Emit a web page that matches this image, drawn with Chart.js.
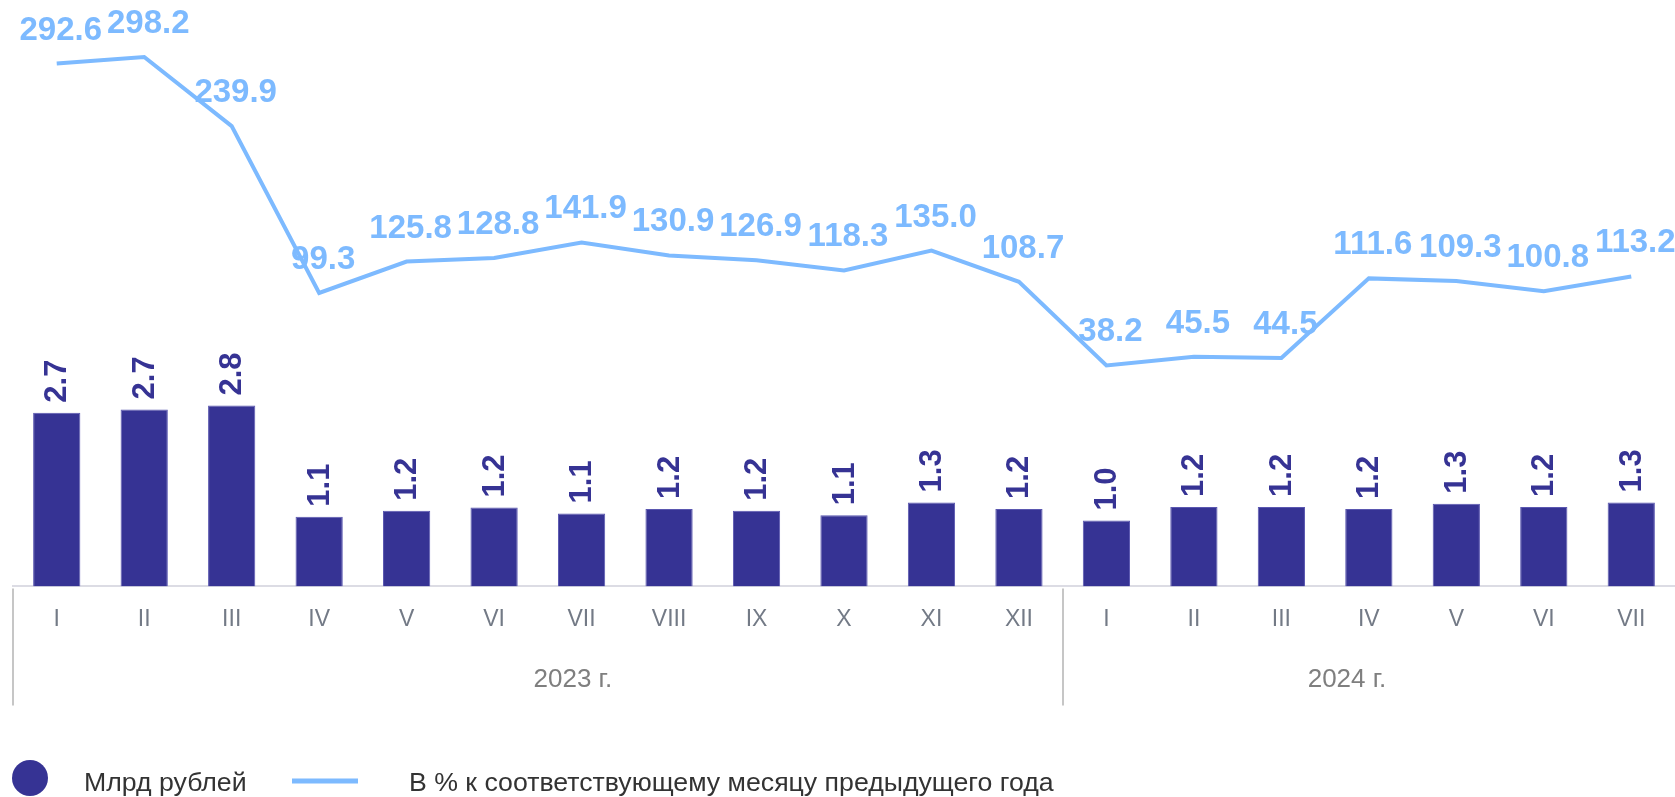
<!DOCTYPE html>
<html>
<head>
<meta charset="utf-8">
<script src="https://cdn.jsdelivr.net/npm/chart.js@4.4.1/dist/chart.umd.min.js"></script>
<style>
	html, body { margin: 0; padding: 0; background: #ffffff; }
	#wrap { width: 1675px; height: 797px; position: relative; }
</style>
</head>
<body>
<div id="wrap"><canvas id="chart"></canvas></div>
<script>
const months = ["I", "II", "III", "IV", "V", "VI", "VII", "VIII", "IX", "X", "XI", "XII",
	"I", "II", "III", "IV", "V", "VI", "VII"];
const years = ["2023 г.", "2024 г."];
const yearSizes = [12, 7];
const rubles = [2.69, 2.74, 2.80, 1.08, 1.17, 1.22, 1.13, 1.20, 1.17, 1.10, 1.30, 1.20,
	1.02, 1.23, 1.23, 1.20, 1.28, 1.23, 1.30];
const percent = [292.6, 298.2, 239.9, 99.3, 125.8, 128.8, 141.9, 130.9, 126.9, 118.3, 135.0, 108.7,
	38.2, 45.5, 44.5, 111.6, 109.3, 100.8, 113.2];
const legendLabels = ["Млрд рублей", "В % к соответствующему месяцу предыдущего года"];

const barColor = "#363394";
const lineColor = "#7dbaff";
const font = "'Liberation Sans', Arial, sans-serif";

const valueLabels = {
	id: 'valueLabels',
	afterDatasetsDraw(chart) {
		const ctx = chart.ctx;
		ctx.save();
		// bar values, rotated
		chart.getDatasetMeta(0).data.forEach((bar, i) => {
			ctx.save();
			ctx.translate(bar.x, bar.y - 10);
			ctx.rotate(-Math.PI / 2);
			ctx.font = "bold 31px " + font;
			ctx.fillStyle = barColor;
			ctx.textAlign = 'left';
			ctx.textBaseline = 'middle';
			ctx.fillText(rubles[i].toFixed(1), 0, 1);
			ctx.restore();
		});
		// line values
		ctx.font = "bold 33px " + font;
		ctx.fillStyle = lineColor;
		ctx.textAlign = 'center';
		ctx.textBaseline = 'alphabetic';
		chart.getDatasetMeta(1).data.forEach((pt, i) => {
			ctx.fillText(percent[i].toFixed(1), pt.x + 4, pt.y - 24);
		});
		ctx.restore();
	}
};

const groupAxis = {
	id: 'groupAxis',
	afterDraw(chart) {
		const ctx = chart.ctx;
		const x = chart.scales.x;
		const bottom = chart.chartArea.bottom;
		const step = x.getPixelForValue(1) - x.getPixelForValue(0);
		ctx.save();
		ctx.strokeStyle = "#c6c6c6";
		ctx.lineWidth = 2;
		// separators at the start of each year group
		let start = 0;
		yearSizes.forEach(n => {
			const px = Math.round(x.getPixelForValue(0) - step / 2 + start * step);
			ctx.beginPath();
			ctx.moveTo(px, bottom + 2);
			ctx.lineTo(px, bottom + 119);
			ctx.stroke();
			start += n;
		});
		// year captions sit a little off the group centre, as in the source
		const nudge = [0.4, -0.25];
		ctx.font = "26px " + font;
		ctx.fillStyle = "#7f7f7f";
		ctx.textAlign = 'center';
		ctx.textBaseline = 'middle';
		start = 0;
		years.forEach((label, k) => {
			const mid = start + (yearSizes[k] - 1) / 2 + nudge[k];
			ctx.fillText(label, x.getPixelForValue(mid), bottom + 93);
			start += yearSizes[k];
		});

		// legend
		const ly = 778;
		ctx.fillStyle = barColor;
		ctx.beginPath();
		ctx.arc(30, ly, 18, 0, Math.PI * 2);
		ctx.fill();
		ctx.strokeStyle = lineColor;
		ctx.lineWidth = 5;
		ctx.beginPath();
		ctx.moveTo(292, ly + 3);
		ctx.lineTo(358, ly + 3);
		ctx.stroke();
		ctx.font = "26.7px " + font;
		ctx.fillStyle = "#333333";
		ctx.textAlign = 'left';
		ctx.textBaseline = 'middle';
		ctx.fillText(legendLabels[0], 84, ly + 6);
		ctx.fillText(legendLabels[1], 409, ly + 6);
		ctx.restore();
	}
};

const config = {
	type: 'bar',
	data: {
		labels: months,
		datasets: [
			{
				type: 'bar',
				label: legendLabels[0],
				data: rubles,
				backgroundColor: barColor,
				borderColor: "#5a57b0",
				borderWidth: 1,
				yAxisID: 'yBar',
				categoryPercentage: 1,
				barPercentage: 0.54,
				order: 2,
			},
			{
				type: 'line',
				label: legendLabels[1],
				data: percent,
				borderColor: lineColor,
				backgroundColor: lineColor,
				borderWidth: 4,
				pointRadius: 0,
				tension: 0,
				yAxisID: 'yLine',
				order: 1,
			}
		]
	},
	options: {
		responsive: true,
		maintainAspectRatio: false,
		animation: false,
		layout: {
			padding: { left: 13, right: 0, top: 5, bottom: 145 }
		},
		plugins: {
			legend: { display: false },
			tooltip: { enabled: false },
			title: { display: false }
		},
		scales: {
			x: {
				offset: true,
				grid: {
					display: false,
					drawTicks: false,
				},
				border: {
					display: true,
					color: "#dcdce4",
					width: 2,
				},
				ticks: {
					color: "#737a86",
					font: { family: font, size: 23 },
					padding: 19,
					maxRotation: 0,
					autoSkip: false,
				}
			},
			yBar: {
				display: false,
				min: 0,
				max: 9,
			},
			yLine: {
				display: false,
				min: -148,
				max: 342,
			}
		}
	},
	plugins: [valueLabels, groupAxis],
};

const ctx = document.getElementById('chart').getContext('2d');
new Chart(ctx, config);
</script>
</body>
</html>
